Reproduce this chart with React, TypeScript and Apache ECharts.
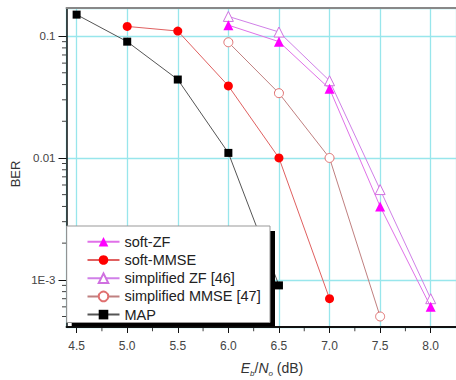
import React, { useEffect, useRef } from "react";
import * as echarts from "echarts";

const FONT = "'Liberation Sans', Arial, Helvetica, sans-serif";

const X_MIN = 4.4;
const X_MAX = 8.25;
const Y_MIN = 4.1e-4;
const Y_MAX = 0.17;

const softZfX = [6.0, 6.5, 7.0, 7.5, 8.0];
const softZfY = [0.123, 0.09, 0.037, 0.004, 0.0006];
const softMmseX = [5.0, 5.5, 6.0, 6.5, 7.0];
const softMmseY = [0.12, 0.11, 0.039, 0.01, 0.0007];
const simpZfX = [6.0, 6.5, 7.0, 7.5, 8.0];
const simpZfY = [0.145, 0.108, 0.043, 0.0055, 0.0007];
const simpMmseX = [6.0, 6.5, 7.0, 7.5];
const simpMmseY = [0.089, 0.034, 0.01, 0.0005];
const mapX = [4.5, 5.0, 5.5, 6.0, 6.5];
const mapY = [0.15, 0.09, 0.044, 0.011, 0.0009];

const seriesNames = [
  "soft-ZF",
  "soft-MMSE",
  "simplified ZF [46]",
  "simplified MMSE [47]",
  "MAP",
];

const yMinorTicks = [
  5e-4, 6e-4, 7e-4, 8e-4, 9e-4,
  2e-3, 3e-3, 4e-3, 5e-3, 6e-3, 7e-3, 8e-3, 9e-3,
  0.02, 0.03, 0.04, 0.05, 0.06, 0.07, 0.08, 0.09,
];
const xMinorTicks = [4.75, 5.25, 5.75, 6.25, 6.75, 7.25, 7.75];

const zip = (xs: number[], ys: number[]) => xs.map((x, i) => [x, ys[i]]);

const GRID_COLOR = "#98e6ec";

export default function App() {
  const ref = useRef<HTMLDivElement>(null);

  useEffect(() => {
    if (!ref.current) return;
    const chart = echarts.init(ref.current, undefined, { renderer: "svg" });

    const option: any = {
      animation: false,
      backgroundColor: "#ffffff",
      grid: { left: 66.5, top: 8, right: -4, bottom: 53, containLabel: false },
      xAxis: [
        {
          type: "value",
          min: X_MIN,
          max: X_MAX,
          splitNumber: 8,
          axisLine: { show: true, lineStyle: { color: "#111", width: 1.8 } },
          axisTick: { show: true, inside: false, length: 6, lineStyle: { color: "#111", width: 1 } },
          axisLabel: {
            show: true,
            showMinLabel: false,
            showMaxLabel: false,
            margin: 13,
            fontSize: 12,
            fontFamily: FONT,
            color: "#444",
            formatter: (v: number) => v.toFixed(1),
          },
          splitLine: { show: true, lineStyle: { color: GRID_COLOR, width: 1.3 } },
        },
        {
          type: "value",
          position: "top",
          min: X_MIN,
          max: X_MAX,
          axisLine: { show: true, lineStyle: { color: "#888", width: 2 } },
          axisTick: { show: false },
          axisLabel: { show: false },
          splitLine: { show: false },
        },
      ],
      yAxis: {
        type: "log",
        logBase: 10,
        min: Y_MIN,
        max: Y_MAX,
        axisLine: { show: true, lineStyle: { color: "#111", width: 1.5 } },
        axisTick: { show: true, inside: false, length: 8, lineStyle: { color: "#111", width: 1 } },
        axisLabel: {
          show: true,
          showMinLabel: false,
          showMaxLabel: false,
          margin: 11,
          fontSize: 11.5,
          fontFamily: FONT,
          color: "#444",
          formatter: (v: number) => {
            const e = Math.round(Math.log10(v));
            if (e >= -2) return Math.pow(10, e).toFixed(-e);
            return "1E" + e;
          },
        },
        splitLine: { show: true, lineStyle: { color: GRID_COLOR, width: 1.3 } },
      },
      legend: {
        orient: "vertical",
        left: 86.5,
        top: 234.3,
        padding: 0,
        itemWidth: 32,
        itemHeight: 12,
        itemGap: 3.2,
        z: 120,
        textStyle: { fontSize: 14.5, color: "#222", fontFamily: FONT },
        data: seriesNames,
      },
      graphic: {
        z: 100,
        elements: [
          {
            type: "rect",
            z: 100,
            shape: { x: 71.7, y: 231, width: 203.3, height: 95.5 },
            style: { fill: "#000" },
          },
          {
            type: "rect",
            z: 101,
            shape: { x: 66.7, y: 226, width: 203.3, height: 96.5 },
            style: { fill: "#fff", stroke: "#999", lineWidth: 1 },
          },
          {
            type: "text",
            x: 15,
            y: 174,
            rotation: Math.PI / 2,
            style: {
              text: "BER",
              fontSize: 13,
              fontFamily: FONT,
              fill: "#333",
              align: "center",
              verticalAlign: "middle",
            },
          },
          {
            type: "text",
            x: 272,
            y: 368,
            style: {
              text: "{i|E}{s|b}{n|/}{i|N}{s|o}{n| (dB)}",
              align: "center",
              verticalAlign: "middle",
              fontFamily: FONT,
              fill: "#333",
              rich: {
                i: { fontSize: 14, fontStyle: "italic", fontFamily: FONT, fill: "#333", lineHeight: 18 },
                s: { fontSize: 8, fontStyle: "italic", fontFamily: FONT, fill: "#333", verticalAlign: "bottom", lineHeight: 18 },
                n: { fontSize: 14, fontFamily: FONT, fill: "#333", lineHeight: 18 },
              },
            },
          },
        ],
      },
      series: [
        {
          name: "soft-ZF",
          type: "line",
          data: zip(softZfX, softZfY),
          symbol: "triangle",
          symbolSize: 10,
          itemStyle: { color: "#ff00ff" },
          lineStyle: { color: "#e070e8", width: 1 },
          z: 4,
        },
        {
          name: "soft-MMSE",
          type: "line",
          data: zip(softMmseX, softMmseY),
          symbol: "circle",
          symbolSize: 9,
          itemStyle: { color: "#ff0000" },
          lineStyle: { color: "#e06060", width: 1 },
          z: 4,
        },
        {
          name: "simplified ZF [46]",
          type: "line",
          data: zip(simpZfX, simpZfY),
          symbol: "triangle",
          symbolSize: 10,
          itemStyle: { color: "#ffffff", borderColor: "#d070e0", borderWidth: 1 },
          lineStyle: { color: "#d080e8", width: 1 },
          z: 3,
        },
        {
          name: "simplified MMSE [47]",
          type: "line",
          data: zip(simpMmseX, simpMmseY),
          symbol: "circle",
          symbolSize: 9,
          itemStyle: { color: "#ffffff", borderColor: "#e07070", borderWidth: 1 },
          lineStyle: { color: "#c08080", width: 1 },
          z: 3,
        },
        {
          name: "MAP",
          type: "line",
          data: zip(mapX, mapY),
          symbol: "rect",
          symbolSize: 8,
          itemStyle: { color: "#000000" },
          lineStyle: { color: "#555555", width: 1 },
          z: 3,
        },
        {
          name: "yMinor",
          type: "scatter",
          data: yMinorTicks.map((v) => [X_MIN, v]),
          symbol: "rect",
          symbolSize: [4, 1],
          symbolOffset: [-2.5, 0],
          itemStyle: { color: "#111" },
          clip: false,
          silent: true,
          z: 6,
        },
        {
          name: "xMinor",
          type: "scatter",
          data: xMinorTicks.map((v) => [v, Y_MIN]),
          symbol: "rect",
          symbolSize: [1, 3.5],
          symbolOffset: [0, 2.6],
          itemStyle: { color: "#111" },
          clip: false,
          silent: true,
          z: 6,
        },
      ],
    };

    chart.setOption(option);
    return () => chart.dispose();
  }, []);

  return (
    <div
      ref={ref}
      style={{ position: "absolute", left: 0, top: 0, width: 456, height: 380 }}
    />
  );
}
